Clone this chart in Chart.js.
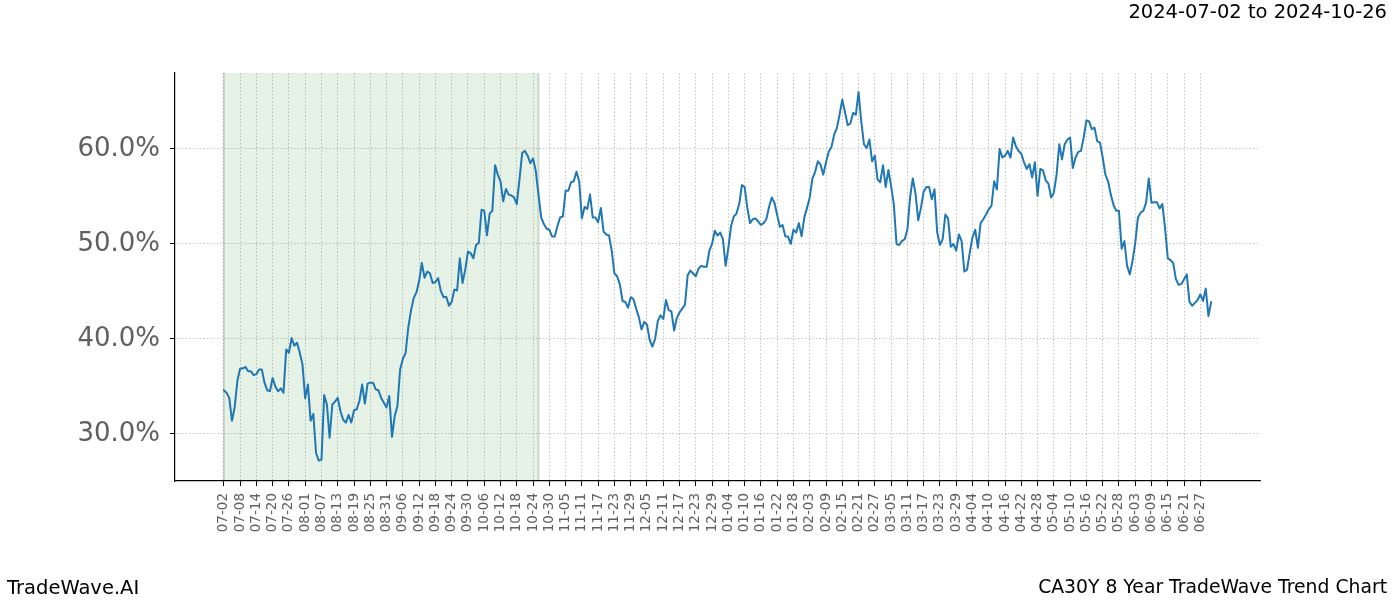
<!DOCTYPE html>
<html>
<head>
<meta charset="utf-8">
<title>CA30Y 8 Year TradeWave Trend Chart</title>
<script src="https://cdn.jsdelivr.net/npm/chart.js@4.4.1/dist/chart.umd.min.js"></script>
<style>
  html, body { margin: 0; padding: 0; background: #fff; }
  #wrap { position: relative; width: 1400px; height: 600px; font-family: 'DejaVu Sans', sans-serif; }
  #trend { position: absolute; left: 0; top: 0; }
  .txt { position: absolute; font-size: 19.5px; line-height: 1; color: #000; white-space: nowrap; }
  #range { right: 13px; top: 2px; }
  #brand { left: 7px; top: 578px; }
  #name { right: 13px; top: 578px; font-size: 18.8px; }
</style>
</head>
<body>
<div id="wrap">
  <canvas id="trend" width="1400" height="600"></canvas>
  <div class="txt" id="range">2024-07-02 to 2024-10-26</div>
  <div class="txt" id="brand">TradeWave.AI</div>
  <div class="txt" id="name">CA30Y 8 Year TradeWave Trend Chart</div>
</div>
<script>
// Trend chart CA30Y

// dia 0 = 2024-07-02
const startDate = Date.UTC(2024, 6, 2);

const tickLabels = [
  '07-02', '07-08', '07-14', '07-20', '07-26', '08-01', '08-07', '08-13', '08-19', '08-25',
  '08-31', '09-06', '09-12', '09-18', '09-24', '09-30', '10-06', '10-12', '10-18', '10-24',
  '10-30', '11-05', '11-11', '11-17', '11-23', '11-29', '12-05', '12-11', '12-17', '12-23',
  '12-29', '01-04', '01-10', '01-16', '01-22', '01-28', '02-03', '02-09', '02-15', '02-21',
  '02-27', '03-05', '03-11', '03-17', '03-23', '03-29', '04-04', '04-10', '04-16', '04-22',
  '04-28', '05-04', '05-10', '05-16', '05-22', '05-28', '06-03', '06-09', '06-15', '06-21',
  '06-27'
];

const yTicks = [30, 40, 50, 60];

// janela destacada (07-02 a 10-26)
const shadeStart = 0;
const shadeEnd = 116;

const days = [
  0, 1, 2, 3, 4, 5, 6, 7, 8, 9, 10, 11, 12, 13, 14, 15, 16, 17, 18, 19,
  20, 21, 22, 23, 24, 25, 26, 27, 28, 29, 30, 31, 32, 33, 34, 35, 36, 37, 38, 39,
  40, 41, 42, 43, 44, 45, 46, 47, 48, 49, 50, 51, 52, 53, 54, 55, 56, 57, 58,
  60, 61, 62, 63, 64, 65, 66, 67, 68, 69, 70, 71, 72, 73, 74, 75, 76, 77, 78, 79,
  80, 81, 82, 83, 84, 85, 86, 87, 88, 89, 90, 91, 92, 93, 94, 95, 96, 97, 98, 99,
  100, 101, 102, 103, 104, 105, 106, 107, 108, 109, 110, 111, 112, 113, 114, 115, 116, 117, 118, 119,
  120, 121, 122, 123, 124, 125, 126, 127, 128, 129, 130, 131, 132, 133, 134, 135, 136, 137, 138, 139,
  140, 141, 142, 143, 144, 145, 146, 147, 148, 149, 150, 151, 152, 153, 154, 155, 156, 157, 158, 159,
  160, 161, 162, 163, 164, 165, 166, 167, 168, 169, 170, 171, 172, 173, 174, 175, 176, 177, 178, 179,
  180, 181, 182, 183, 184, 185, 186, 187, 188, 189, 190, 191, 192, 193, 194, 195, 196, 197, 198, 199,
  200, 201, 202, 203, 204, 205, 206, 207, 208, 209, 210, 211, 212, 213, 214, 215, 216, 217, 218, 219,
  220, 221, 222, 223, 224, 225, 226, 227, 228, 229, 230, 231, 232, 233, 234, 235, 236, 237, 238, 239,
  240, 241, 242, 243, 244, 245, 246, 247, 248, 249, 250, 251, 252, 253, 254, 255, 256, 257, 258, 259,
  260, 261, 262, 263, 264, 265, 266, 267, 268, 269, 270, 271, 272, 273, 274, 275, 276, 277, 278, 279,
  280, 281, 282, 283, 284, 285, 286, 287, 288, 289, 290, 291, 292, 293, 294, 295, 296, 297, 298, 299,
  300, 301, 302, 303, 304, 305, 306, 307, 308, 309, 310, 311, 312, 313, 314, 315, 316, 317, 318, 319,
  320, 321, 322, 323, 324, 325, 326, 327, 328, 329, 330, 331, 332, 333, 334, 335, 336, 337, 338, 339,
  340, 341, 342, 343, 344, 345, 346, 347, 348, 349, 350, 351, 352, 353, 354, 355, 356, 357, 358, 359,
  360, 361, 362, 363, 364
];

const values = [
  34.6, 34.35, 33.8, 31.4, 32.8, 35.6, 36.9, 36.9, 37.05, 36.6, 36.6, 36.2, 36.3, 36.8, 36.8, 35.4, 34.6, 34.5, 35.9, 35.0,
  34.5, 34.8, 34.35, 38.9, 38.55, 40.1, 39.3, 39.6, 38.55, 37.3, 33.75, 35.2, 31.4, 32.1, 28.0, 27.2, 27.3, 34.1, 33.1, 29.6,
  33.1, 33.4, 33.8, 32.4, 31.5, 31.2, 32.0, 31.2, 32.5, 32.6, 33.5, 35.2, 33.2, 35.3, 35.4, 35.4, 34.7, 34.6, 33.8,
  32.8, 34.0, 29.7, 31.9, 32.95, 36.8, 37.9, 38.5, 41.2, 43.0, 44.3, 44.9, 46.1, 48.0, 46.45, 47.1, 46.9, 45.9, 46.0, 46.4,
  45.05, 44.4, 44.45, 43.5, 43.9, 45.2, 45.1, 48.5, 45.9, 47.3, 49.2, 49.05, 48.5, 49.9, 50.1, 53.6, 53.5, 50.9, 53.2, 53.5,
  58.3, 57.3, 56.6, 54.5, 55.8, 55.2, 55.1, 54.9, 54.2, 56.8, 59.6, 59.8, 59.3, 58.5, 59.0, 57.7, 55.2, 52.8, 52.1, 51.6,
  51.5, 50.8, 50.8, 51.9, 52.8, 52.9, 55.6, 55.6, 56.5, 56.6, 57.6, 56.6, 52.7, 53.9, 53.7, 55.2, 52.8, 52.8, 52.3, 53.8,
  51.3, 51.0, 50.9, 49.3, 46.9, 46.6, 45.75, 44.0, 43.9, 43.3, 44.4, 44.2, 43.2, 42.3, 41.0, 41.8, 41.5, 39.9, 39.2, 40.0,
  41.9, 42.5, 42.1, 44.1, 43.05, 42.9, 40.9, 42.2, 42.8, 43.2, 43.6, 46.7, 47.2, 46.9, 46.6, 47.4, 47.7, 47.6, 47.6, 49.3,
  50.0, 51.4, 50.9, 51.2, 50.5, 47.7, 49.6, 51.9, 52.9, 53.2, 54.2, 56.2, 56.0, 53.8, 52.2, 52.6, 52.7, 52.35, 52.0, 52.2,
  52.6, 53.9, 54.9, 54.35, 53.05, 51.8, 52.0, 50.8, 50.8, 50.0, 51.5, 51.2, 52.2, 50.8, 52.8, 53.8, 54.9, 56.9, 57.6, 58.7,
  58.35, 57.3, 58.6, 59.7, 60.2, 61.5, 62.2, 63.6, 65.2, 63.9, 62.5, 62.7, 63.8, 63.6, 66.0, 62.9, 60.5, 60.1, 61.0, 58.7,
  59.3, 56.8, 56.5, 58.3, 56.0, 57.8, 56.1, 54.2, 50.0, 49.9, 50.3, 50.5, 51.5, 54.9, 56.9, 55.3, 52.5, 53.8, 55.5, 56.0,
  56.0, 54.7, 55.75, 51.2, 49.9, 50.5, 53.1, 52.7, 49.7, 50.0, 49.3, 51.0, 50.3, 47.1, 47.3, 49.1, 50.7, 51.5, 49.6, 52.2,
  52.6, 53.1, 53.65, 54.0, 56.6, 55.75, 60.0, 59.1, 59.3, 59.8, 59.1, 61.2, 60.3, 59.8, 59.5, 58.6, 57.9, 58.4, 57.0, 58.6,
  55.05, 57.9, 57.75, 56.7, 56.35, 54.9, 55.4, 57.3, 60.5, 58.9, 60.5, 61.0, 61.2, 58.0, 59.1, 59.7, 59.8, 61.2, 63.0, 62.9,
  62.1, 62.25, 60.8, 60.7, 59.1, 57.3, 56.6, 55.2, 54.1, 53.5, 53.5, 49.5, 50.3, 47.7, 46.8, 48.2, 50.1, 52.8, 53.3, 53.5,
  54.35, 56.9, 54.35, 54.4, 54.4, 53.75, 54.2, 51.7, 48.5, 48.3, 48.0, 46.3, 45.7, 45.8, 46.3, 46.8, 43.9, 43.5, 43.8, 44.1,
  44.7, 44.0, 45.3, 42.4, 43.9
];

// converte 'MM-DD' em dias desde o início (julho a dezembro = 2024)
function labelToDay(label) {
  const [mm, dd] = label.split('-').map(Number);
  const year = mm >= 7 ? 2024 : 2025;
  return Math.round((Date.UTC(year, mm - 1, dd) - startDate) / 86400000);
}

const tickDays = tickLabels.map(labelToDay);

const GRID_COLOR = 'rgba(120,120,120,0.55)';
const LABEL_COLOR = '#606060';

// faixa verde do período destacado
const shadePlugin = {
  id: 'shade',
  beforeDraw(chart) {
    const { ctx, chartArea, scales } = chart;
    const x1 = scales.x.getPixelForValue(shadeStart);
    const x2 = scales.x.getPixelForValue(shadeEnd);
    ctx.save();
    ctx.fillStyle = 'rgba(0,128,0,0.1)';
    ctx.fillRect(x1, chartArea.top, x2 - x1, chartArea.bottom - chartArea.top);
    ctx.strokeStyle = 'rgba(90,120,90,0.25)';
    ctx.lineWidth = 2;
    ctx.beginPath();
    ctx.moveTo(x1, chartArea.top);
    ctx.lineTo(x1, chartArea.bottom);
    ctx.moveTo(x2, chartArea.top);
    ctx.lineTo(x2, chartArea.bottom);
    ctx.stroke();
    ctx.restore();
  }
};

const ctx = document.getElementById('trend').getContext('2d');
new Chart(ctx, {
  type: 'line',
  data: {
    datasets: [{
      data: days.map((d, i) => ({ x: d, y: values[i] })),
      borderColor: '#1f77b4',
      borderWidth: 2,
      pointRadius: 0,
      tension: 0,
      fill: false,
      borderJoinStyle: 'round',
      borderCapStyle: 'round'
    }]
  },
  options: {
    responsive: false,
    animation: false,
    devicePixelRatio: 1,
    layout: {
      padding: { left: 1, top: 73, right: 140, bottom: 0 }
    },
    plugins: {
      legend: { display: false },
      tooltip: { enabled: false }
    },
    scales: {
      x: {
        type: 'linear',
        min: -18,
        max: 382,
        afterBuildTicks: scale => { scale.ticks = tickDays.map(v => ({ value: v })); },
        afterFit: scale => { scale.height = 119; },
        grid: {
          color: GRID_COLOR,
          lineWidth: 0.8,
          tickColor: '#000',
          tickLength: 5,
          tickWidth: 1
        },
        border: { color: '#000', width: 1.2, dash: [1.5, 2] },
        ticks: {
          autoSkip: false,
          maxRotation: 90,
          minRotation: 90,
          padding: 7,
          color: LABEL_COLOR,
          font: { family: 'DejaVu Sans', size: 13.5 },
          callback: (value, index) => tickLabels[index]
        }
      },
      y: {
        type: 'linear',
        min: 25.05,
        max: 68.0,
        afterBuildTicks: scale => { scale.ticks = yTicks.map(v => ({ value: v })); },
        afterFit: scale => { scale.width = 174; },
        grid: {
          color: GRID_COLOR,
          lineWidth: 0.8,
          tickColor: '#000',
          tickLength: 5,
          tickWidth: 1
        },
        border: { color: '#000', width: 1.2, dash: [1.5, 2] },
        ticks: {
          padding: 10,
          color: LABEL_COLOR,
          font: { family: 'DejaVu Sans', size: 26 },
          callback: value => value.toFixed(1) + '%'
        }
      }
    }
  },
  plugins: [shadePlugin]
});
</script>
</body>
</html>
